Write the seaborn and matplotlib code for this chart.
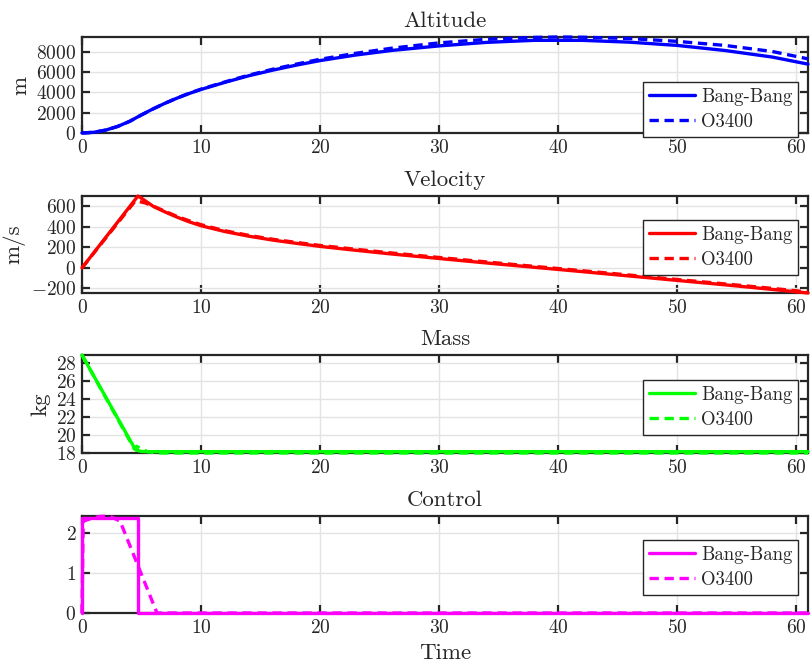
import numpy as np
import pandas as pd
import seaborn as sns
import matplotlib
matplotlib.use("Agg")
import matplotlib.pyplot as plt
from matplotlib.ticker import MultipleLocator, FixedLocator

# ---- trajectory data -------------------------------------------------------
series_labels = ["Bang-Bang", "O3400"]

# altitude [m]
alt_t_bb = [0, 1, 2, 3, 4, 4.7, 5, 6, 7, 8, 9, 10, 12, 14, 16, 18, 20, 23, 26,
            30, 34, 38, 42, 46, 50, 54, 58, 61]
alt_bb = [0, 70, 290, 650, 1150, 1600, 1800, 2400, 2950, 3450, 3900, 4300,
          5000, 5650, 6200, 6700, 7150, 7700, 8150, 8600, 8950, 9150, 9150,
          8970, 8650, 8150, 7500, 6800]
alt_t_o = [0, 1, 2, 3, 4, 4.7, 5, 6, 7, 8, 9, 10, 12, 14, 16, 18, 20, 23, 26,
           30, 34, 38, 40, 42, 46, 50, 54, 58, 61]
alt_o = [0, 70, 290, 650, 1150, 1580, 1780, 2390, 2950, 3460, 3920, 4330,
         5040, 5710, 6290, 6800, 7280, 7870, 8370, 8900, 9250, 9440, 9480,
         9460, 9330, 9050, 8650, 8050, 7320]

# velocity [m/s]
vel_t_bb = [0, 4.7, 5, 6, 7, 8, 9, 10, 12, 14, 16, 18, 20, 23, 26, 30, 34, 38,
            42, 46, 50, 54, 58, 61]
vel_bb = [0, 702, 680, 600, 545, 495, 450, 412, 355, 310, 272, 240, 210, 172,
          136, 92, 48, 6, -36, -79, -122, -165, -210, -245]
vel_t_o = [0, 4.45, 4.8, 5.3, 6, 7, 8, 9, 10, 12, 14, 16, 18, 20, 23, 26, 30,
           34, 38, 42, 46, 50, 54, 58, 61]
vel_o = [0, 650, 648, 635, 602, 552, 502, 460, 422, 363, 318, 280, 249, 219,
         182, 146, 102, 58, 15, -27, -70, -113, -156, -200, -235]

# mass [kg]
mass_t_bb = [0, 4.5, 5.0, 5.5, 61]
mass_bb = [28.9, 18.3, 18.12, 18.1, 18.1]
mass_t_o = [0, 4.4, 4.6, 4.9, 5.5, 6.5, 61]
mass_o = [28.9, 18.4, 18.7, 18.45, 18.1, 17.95, 17.95]

# control
ctrl_t_bb = [0, 0, 4.7, 4.7, 61]
ctrl_bb = [0, 2.38, 2.38, 0, 0]
ctrl_t_o = [0, 0.1, 0.6, 1.5, 2.3, 3.2, 6.3, 61]
ctrl_o = [0, 2.3, 2.35, 2.42, 2.43, 2.3, 0, 0]

titles = ["Altitude", "Velocity", "Mass", "Control"]
ylabels = ["m", "m/s", "kg", None]
colors = ["#0000ff", "#ff0000", "#00ff00", "#ff00ff"]
ylims = [(0, 9480), (-245, 702), (17.95, 28.9), (0, 2.43)]
yticks = [[0, 2000, 4000, 6000, 8000], [-200, 0, 200, 400, 600],
          [18, 20, 22, 24, 26, 28], [0, 1, 2]]
xlim = (0, 61)

data = [
    ((alt_t_bb, alt_bb), (alt_t_o, alt_o)),
    ((vel_t_bb, vel_bb), (vel_t_o, vel_o)),
    ((mass_t_bb, mass_bb), (mass_t_o, mass_o)),
    ((ctrl_t_bb, ctrl_bb), (ctrl_t_o, ctrl_o)),
]

# ---- style ----------------------------------------------------------------
sns.set_theme(style="ticks")
plt.rcParams.update({
    "font.family": ["cmr10"],
    "mathtext.fontset": "cm",
    "axes.formatter.use_mathtext": True,
    "axes.unicode_minus": False,
    "axes.edgecolor": "#262626",
    "axes.linewidth": 1.6,
    "xtick.color": "#262626",
    "ytick.color": "#262626",
    "text.color": "#262626",
})

W, H = 812, 671
fig = plt.figure(figsize=(W / 100, H / 100), dpi=100)

# axes boxes in pixels: (top, bottom)
boxes = [(37, 133), (196, 293), (355, 453), (516, 613)]
legend_tops = [82, 220, 380, 540]
left_px, right_px = 82, 808

for i, ((top, bot), (bb, oo)) in enumerate(zip(boxes, data)):
    ax = fig.add_axes([left_px / W, 1 - bot / H, (right_px - left_px) / W,
                       (bot - top) / H])
    c = colors[i]
    df_bb = pd.DataFrame({"t": bb[0], "v": bb[1]})
    df_o = pd.DataFrame({"t": oo[0], "v": oo[1]})
    sns.lineplot(data=df_bb, x="t", y="v", ax=ax, color=c, lw=2.4,
                 estimator=None, sort=False, label=series_labels[0],
                 zorder=3, clip_on=False)
    sns.lineplot(data=df_o, x="t", y="v", ax=ax, color=c, lw=2.4,
                 estimator=None, sort=False, label=series_labels[1],
                 zorder=3, clip_on=False, dashes=False)
    ax.lines[1].set_dashes((2.8, 1.7))

    ax.set_xlim(*xlim)
    ax.set_ylim(*ylims[i])
    ax.xaxis.set_major_locator(MultipleLocator(10))
    ax.yaxis.set_major_locator(FixedLocator(yticks[i]))
    ax.grid(True, color="#e3e3e3", lw=1.0, zorder=0)
    ax.set_axisbelow(True)
    ax.tick_params(direction="in", length=6, width=1.6, top=True,
                   right=True, labelsize=14, pad=4)
    ax.set_title(titles[i], fontsize=16.5, pad=7)
    ax.set_xlabel("Time" if i == 3 else "", fontsize=16.5, labelpad=5)
    ax.set_ylabel(ylabels[i] if ylabels[i] else "", fontsize=16.5,
                  labelpad=4)
    for sp in ax.spines.values():
        sp.set_zorder(2.5)

    leg = ax.legend(loc="upper left",
                    bbox_to_anchor=(643 / W, 1 - legend_tops[i] / H),
                    bbox_transform=fig.transFigure, borderaxespad=0,
                    fontsize=13.5, frameon=True, fancybox=False,
                    framealpha=1, edgecolor="#262626", handlelength=2.5,
                    handletextpad=0.3, borderpad=0.3, labelspacing=0.4)
    leg.get_frame().set_linewidth(1.0)
    leg.set_zorder(5)

fig.savefig("out.png", dpi=100)
